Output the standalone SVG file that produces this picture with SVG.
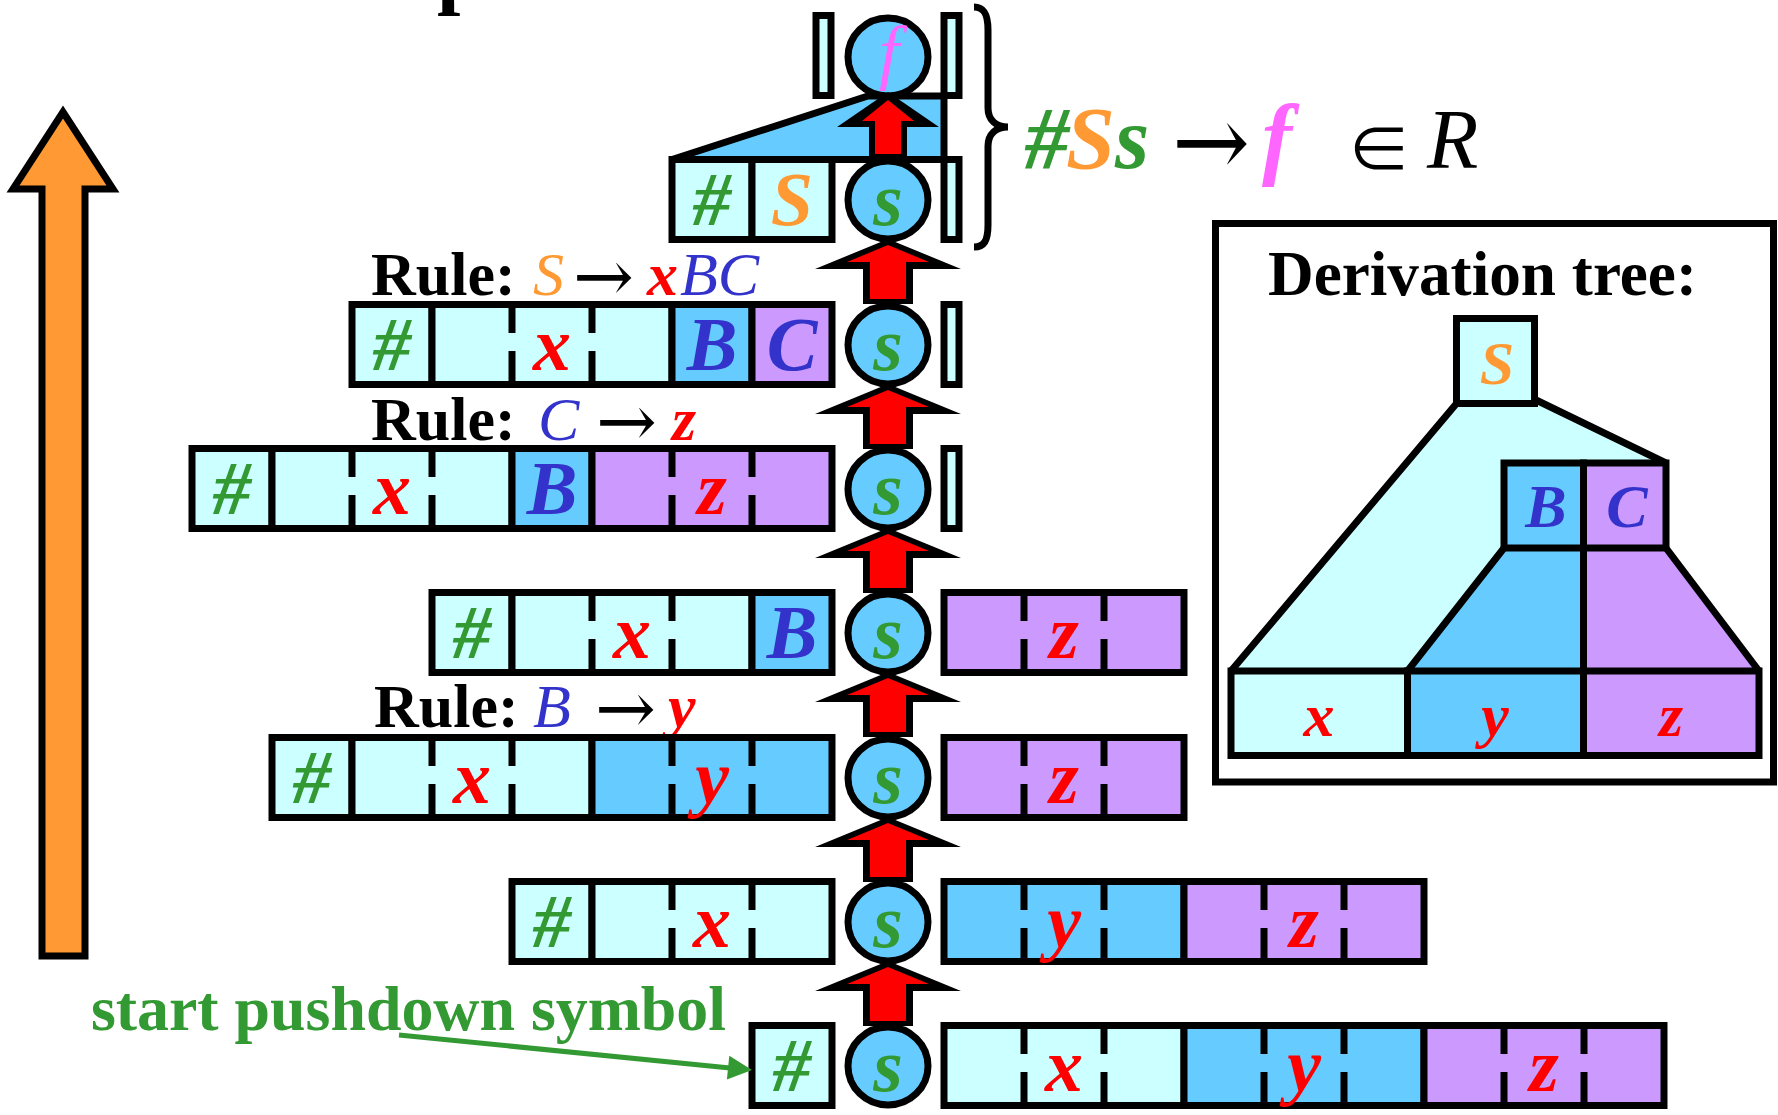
<svg xmlns="http://www.w3.org/2000/svg" width="1778" height="1115" viewBox="0 0 1778 1115">
<defs>
<style>
.cy{fill:#ccffff}.bl{fill:#66ccff}.pu{fill:#cc99ff}
.k{stroke:#000;stroke-width:7;stroke-linejoin:miter}
.d{stroke:#000;stroke-width:7;fill:none}
.L{font-family:"Liberation Serif","Times New Roman",serif;font-weight:bold;font-style:italic;font-size:76px;text-anchor:middle}
.Tr{font-family:"Liberation Serif","Times New Roman",serif;font-weight:bold;font-size:62px}
.it{font-family:"Liberation Serif","Times New Roman",serif;font-style:italic;font-size:62px}
.ar{font-family:"DejaVu Serif","Liberation Serif",serif;font-size:72px}
.g{fill:#339933}.o{fill:#ff9933}.b{fill:#3333cc}.r{fill:#ff0000}.m{fill:#ff66ff}
</style>
<g id="bigArrow">
<polygon points="0,0 73,30 25,30 25,65 -25,65 -25,30 -73,30" fill="#000"/>
<polygon points="0,6 41,23 18,23 18,60 -18,60 -18,23 -41,23" fill="#ff0000"/>
</g>
</defs>
<rect width="1778" height="1115" fill="#fff"/>

<text x="437" y="-2" style="font-family:'Liberation Serif',serif;font-weight:bold;font-size:84px">p</text>

<g id="progress-arrow">
<path d="M63 112 L113 189 L85 189 L85 956 L42 956 L42 189 L13 189 Z" fill="#ff9933" stroke="#000" stroke-width="7"/>
</g>

<g id="row0">
<polygon points="672,159.5 868,96 944,96 944,159.5" class="k bl"/>
<rect x="816" y="15.5" width="15" height="80" class="k cy"/>
<rect x="944" y="15.5" width="15" height="80" class="k cy"/>
<ellipse cx="888" cy="57" rx="40" ry="39" class="k bl"/>
<text x="889" y="76" class="m" style="font-family:'Liberation Serif',serif;font-style:italic;font-size:72px;text-anchor:middle">f</text>
</g>

<g id="row1">
<rect x="672" y="159.5" width="80" height="80" class="k cy"/>
<rect x="752" y="159.5" width="80" height="80" class="k cy"/>
<rect x="944" y="159.5" width="15" height="80" class="k cy"/>
<ellipse cx="888" cy="200" rx="40" ry="39" class="k bl"/>
<text x="712" y="225" class="L g">#</text>
<text x="792" y="225" class="L o">S</text>
<text x="888" y="225" class="L g">s</text>
</g>

<g id="rule1">
<text x="371" y="295" class="Tr">Rule:</text>
<text x="533" y="295" class="it o">S</text>
<text x="573" y="301" class="ar" textLength="61" lengthAdjust="spacingAndGlyphs">→</text>
<text x="647" y="295" class="Tr r" style="font-style:italic">x</text>
<text x="680" y="295" class="it b">BC</text>
</g>

<g id="row2">
<rect x="352" y="304.5" width="80" height="80" class="k cy"/>
<rect x="432" y="304.5" width="240" height="80" class="k cy"/>
<rect x="672" y="304.5" width="80" height="80" class="k bl"/>
<rect x="752" y="304.5" width="80" height="80" class="k pu"/>
<path class="d" d="M512 304.5V333M512 351V384.5M592 304.5V333M592 351V384.5"/>
<rect x="944" y="304.5" width="15" height="80" class="k cy"/>
<ellipse cx="888" cy="345" rx="40" ry="39" class="k bl"/>
<text x="392" y="370" class="L g">#</text>
<text x="552" y="370" class="L r">x</text>
<text x="712" y="370" class="L b">B</text>
<text x="792" y="370" class="L b">C</text>
<text x="888" y="370" class="L g">s</text>
</g>

<g id="rule2">
<text x="371" y="440" class="Tr">Rule:</text>
<text x="538" y="440" class="it b">C</text>
<text x="596" y="446" class="ar" textLength="61" lengthAdjust="spacingAndGlyphs">→</text>
<text x="672" y="440" class="Tr r" style="font-style:italic">z</text>
</g>

<g id="row3">
<rect x="192" y="448.5" width="80" height="80" class="k cy"/>
<rect x="272" y="448.5" width="240" height="80" class="k cy"/>
<rect x="512" y="448.5" width="80" height="80" class="k bl"/>
<rect x="592" y="448.5" width="240" height="80" class="k pu"/>
<path class="d" d="M352 448.5V477M352 495V528.5M432 448.5V477M432 495V528.5M672 448.5V477M672 495V528.5M752 448.5V477M752 495V528.5"/>
<rect x="944" y="448.5" width="15" height="80" class="k cy"/>
<ellipse cx="888" cy="489" rx="40" ry="39" class="k bl"/>
<text x="232" y="514" class="L g">#</text>
<text x="392" y="514" class="L r">x</text>
<text x="552" y="514" class="L b">B</text>
<text x="712" y="514" class="L r">z</text>
<text x="888" y="514" class="L g">s</text>
</g>

<g id="row4">
<rect x="432" y="592.5" width="80" height="80" class="k cy"/>
<rect x="512" y="592.5" width="240" height="80" class="k cy"/>
<rect x="752" y="592.5" width="80" height="80" class="k bl"/>
<rect x="944" y="592.5" width="240" height="80" class="k pu"/>
<path class="d" d="M592 592.5V621M592 639V672.5M672 592.5V621M672 639V672.5M1024 592.5V621M1024 639V672.5M1104 592.5V621M1104 639V672.5"/>
<ellipse cx="888" cy="633" rx="40" ry="39" class="k bl"/>
<text x="472" y="658" class="L g">#</text>
<text x="632" y="658" class="L r">x</text>
<text x="792" y="658" class="L b">B</text>
<text x="1064" y="658" class="L r">z</text>
<text x="888" y="658" class="L g">s</text>
</g>

<g id="rule3">
<text x="374" y="727" class="Tr">Rule:</text>
<text x="533" y="727" class="it b">B</text>
<text x="595" y="733" class="ar" textLength="61" lengthAdjust="spacingAndGlyphs">→</text>
<text x="668" y="727" class="Tr r" style="font-style:italic">y</text>
</g>

<g id="row5">
<rect x="272" y="737.5" width="80" height="80" class="k cy"/>
<rect x="352" y="737.5" width="240" height="80" class="k cy"/>
<rect x="592" y="737.5" width="240" height="80" class="k bl"/>
<rect x="944" y="737.5" width="240" height="80" class="k pu"/>
<path class="d" d="M432 737.5V766M432 784V817.5M512 737.5V766M512 784V817.5M672 737.5V766M672 784V817.5M752 737.5V766M752 784V817.5M1024 737.5V766M1024 784V817.5M1104 737.5V766M1104 784V817.5"/>
<ellipse cx="888" cy="778" rx="40" ry="39" class="k bl"/>
<text x="312" y="803" class="L g">#</text>
<text x="472" y="803" class="L r">x</text>
<text x="712" y="803" class="L r">y</text>
<text x="1064" y="803" class="L r">z</text>
<text x="888" y="803" class="L g">s</text>
</g>

<g id="row6">
<rect x="512" y="881.5" width="80" height="80" class="k cy"/>
<rect x="592" y="881.5" width="240" height="80" class="k cy"/>
<rect x="944" y="881.5" width="240" height="80" class="k bl"/>
<rect x="1184" y="881.5" width="240" height="80" class="k pu"/>
<path class="d" d="M672 881.5V910M672 928V961.5M752 881.5V910M752 928V961.5M1024 881.5V910M1024 928V961.5M1104 881.5V910M1104 928V961.5M1264 881.5V910M1264 928V961.5M1344 881.5V910M1344 928V961.5"/>
<ellipse cx="888" cy="922" rx="40" ry="39" class="k bl"/>
<text x="552" y="947" class="L g">#</text>
<text x="712" y="947" class="L r">x</text>
<text x="1064" y="947" class="L r">y</text>
<text x="1304" y="947" class="L r">z</text>
<text x="888" y="947" class="L g">s</text>
</g>

<g id="row7">
<rect x="752" y="1025.5" width="80" height="80" class="k cy"/>
<rect x="944" y="1025.5" width="240" height="80" class="k cy"/>
<rect x="1184" y="1025.5" width="240" height="80" class="k bl"/>
<rect x="1424" y="1025.5" width="240" height="80" class="k pu"/>
<path class="d" d="M1024 1025.5V1054M1024 1072V1105.5M1104 1025.5V1054M1104 1072V1105.5M1264 1025.5V1054M1264 1072V1105.5M1344 1025.5V1054M1344 1072V1105.5M1504 1025.5V1054M1504 1072V1105.5M1584 1025.5V1054M1584 1072V1105.5"/>
<ellipse cx="888" cy="1066" rx="40" ry="39" class="k bl"/>
<text x="792" y="1091" class="L g">#</text>
<text x="1064" y="1091" class="L r">x</text>
<text x="1304" y="1091" class="L r">y</text>
<text x="1544" y="1091" class="L r">z</text>
<text x="888" y="1091" class="L g">s</text>
</g>

<g id="start-label">
<text x="91" y="1030" class="Tr g" style="font-size:63px" textLength="635" lengthAdjust="spacingAndGlyphs">start pushdown symbol</text>
</g>

<g id="final-rule">
<path d="M974 7 C984 7 988 14 988 30 L988 108 C988 120 996 127 1008 127 C996 127 988 134 988 146 L988 225 C988 241 984 247 974 247" fill="none" stroke="#000" stroke-width="7"/>
<text x="1025" y="168" class="g" style="font-family:'Liberation Serif',serif;font-weight:bold;font-style:italic;font-size:88px">#</text>
<text x="1066" y="168" class="o" style="font-family:'Liberation Serif',serif;font-weight:bold;font-style:italic;font-size:88px">S</text>
<text x="1115" y="168" class="g" style="font-family:'Liberation Serif',serif;font-weight:bold;font-style:italic;font-size:88px">s</text>
<text x="1172" y="176" class="ar" style="font-size:100px" textLength="78" lengthAdjust="spacingAndGlyphs">→</text>
<text x="1262" y="168" class="m" style="font-family:'Liberation Serif',serif;font-weight:bold;font-style:italic;font-size:90px">f</text>
<text x="1347" y="172" style="font-family:'Noto Sans CJK JP','DejaVu Sans',sans-serif;font-size:64px">∈</text>
<text x="1427" y="168" style="font-family:'Liberation Serif',serif;font-style:italic;font-size:84px">R</text>
</g>

<g id="derivation-tree">
<rect x="1215.5" y="223.5" width="558" height="558.5" fill="#fff" stroke="#000" stroke-width="7"/>
<text x="1268" y="295" class="Tr" style="font-size:63px" textLength="429" lengthAdjust="spacingAndGlyphs">Derivation tree:</text>
<polygon points="1456.5,403.5 1536,400 1666,463 1666,548 1504,548 1407.5,671 1231,671" class="cy"/>
<polygon points="1504,548 1583.5,548 1583.5,671 1407.5,671" class="bl"/>
<polygon points="1583.5,548 1666,548 1759,671 1583.5,671" class="pu"/>
<path class="d" d="M1456.5 403.5L1231 671M1536 400L1666 463M1504 548L1407.5 671M1666 548L1759 671M1583.5 548V671"/>
<rect x="1456.5" y="318.5" width="78" height="85" class="k cy"/>
<rect x="1504" y="463" width="79.5" height="85" class="k bl"/>
<rect x="1583.5" y="463" width="82.5" height="85" class="k pu"/>
<rect x="1231" y="671" width="176.5" height="84.5" class="k cy"/>
<rect x="1407.5" y="671" width="176" height="84.5" class="k bl"/>
<rect x="1583.5" y="671" width="175.5" height="84.5" class="k pu"/>
<text x="1497" y="384" class="L o" style="font-size:62px">S</text>
<text x="1546" y="527" class="L b" style="font-size:62px">B</text>
<text x="1627" y="527" class="L b" style="font-size:62px">C</text>
<text x="1319" y="736" class="L r" style="font-size:62px">x</text>
<text x="1495" y="736" class="L r" style="font-size:62px">y</text>
<text x="1671" y="736" class="L r" style="font-size:62px">z</text>
</g>

<g id="connectors">
<polygon points="888,92 939,127 907,127 907,159 869,159 869,127 837,127" fill="#000"/>
<polygon points="888,100 914,121 901,121 901,154 875,154 875,121 862,121" fill="#ff0000"/>
<use href="#bigArrow" transform="translate(888,239)"/>
<use href="#bigArrow" transform="translate(888,384)"/>
<use href="#bigArrow" transform="translate(888,528)"/>
<use href="#bigArrow" transform="translate(888,672)"/>
<use href="#bigArrow" transform="translate(888,817)"/>
<use href="#bigArrow" transform="translate(888,961)"/>
<line x1="399" y1="1035" x2="730" y2="1068" stroke="#339933" stroke-width="5"/>
<polygon points="752,1070 729.3,1055.7 726.9,1079.5" fill="#339933"/>
</g>
</svg>
